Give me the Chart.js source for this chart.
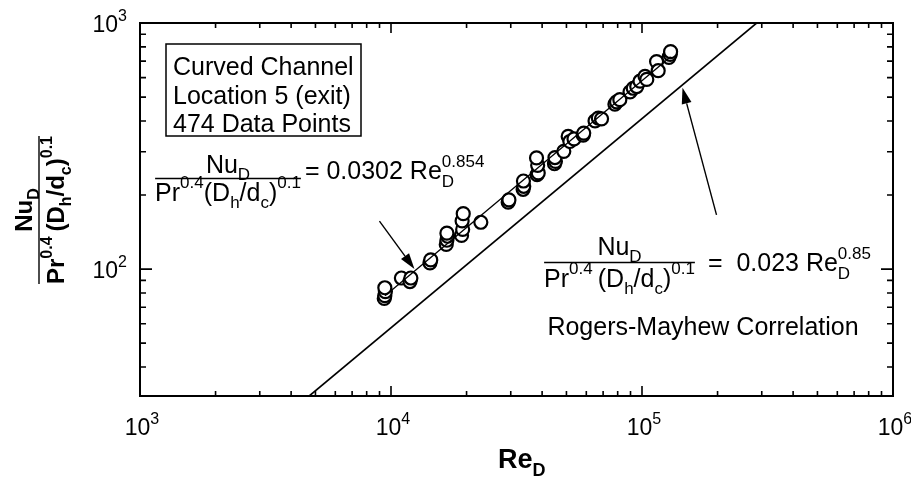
<!DOCTYPE html>
<html>
<head>
<meta charset="utf-8">
<script src="https://cdn.jsdelivr.net/npm/chart.js@4.4.1/dist/chart.umd.min.js"></script>
<style>
    html, body { margin: 0; padding: 0; background: #fff; }
    #chart { display: block; }
</style>
</head>
<body>
<canvas id="chart" width="911" height="480"></canvas>
<script>
// measured points, curved channel location 5 (exit)
const reVals = [9400, 9450, 9500, 9450, 11000, 11900, 12000, 14300, 14400,
    16600, 16700, 16800, 16700, 19100, 19300, 19200, 19400, 22800, 29300, 29500,
    33600, 33800, 33700, 38200, 38600, 38400, 38000, 44800, 45200, 45000, 48800,
    50800, 51600, 53600, 58300, 58600, 65000, 67000, 69000, 78000, 79200, 81600,
    89600, 92300, 95300, 98200, 102800, 104500, 114300, 116000, 128000, 129500, 130000];
const nuVals = [76, 78, 81, 84, 92, 89, 92, 106, 109,
    126, 131, 136, 140, 137, 145, 157, 168, 155, 187, 191,
    211, 217, 228, 242, 246, 264, 283, 268, 274, 284, 301,
    346, 330, 338, 350, 357, 400, 411, 408, 468, 478, 488,
    525, 543, 552, 580, 607, 590, 697, 640, 725, 745, 765];

// fit line 0.0302 Re^0.854 (end points)
const fitRe = [9470, 130000];
const fitNu = [78, 730];

// Rogers-Mayhew correlation 0.023 Re^0.85
const rmRe = [4000, 300000];
const rmNu = [26.5, 1040];

const xMin = 1e3, xMax = 1e6;
const yMin = 30.5, yMax = 1e3;
const xTickVals = [1e3, 1e4, 1e5, 1e6];
const xTickExp = ['3', '4', '5', '6'];
const yTickVals = [1e2, 1e3];
const yTickExp = ['2', '3'];
const minorSteps = [2, 3, 4, 5, 6, 7, 8, 9];

const boxLines = ['Curved Channel', 'Location 5 (exit)', '474 Data Points'];
const rogersLabel = 'Rogers-Mayhew Correlation';

const fontFam = '"Liberation Sans", Arial, Helvetica, sans-serif';

function font(size, bold)
{
    return (bold ? 'bold ' : '') + size + 'px ' + fontFam;
}

function richWidth(ctx, parts, size, bold)
{
    let w = 0;
    let s = Math.round(size * 0.68);
    parts.forEach(p => {
        if (typeof p === 'string') {
            ctx.font = font(size, bold);
            w += ctx.measureText(p).width;
        } else {
            ctx.font = font(s, bold);
            let a = p.sub ? ctx.measureText(p.sub).width : 0;
            let b = p.sup ? ctx.measureText(p.sup).width : 0;
            w += Math.max(a, b);
        }
    });
    return w;
}

function drawRich(ctx, parts, x, y, size, bold, align)
{
    let w = richWidth(ctx, parts, size, bold);
    if (align === 'center') x -= w / 2;
    else if (align === 'right') x -= w;
    let s = Math.round(size * 0.68);
    ctx.textAlign = 'left';
    ctx.textBaseline = 'alphabetic';
    parts.forEach(p => {
        if (typeof p === 'string') {
            ctx.font = font(size, bold);
            ctx.fillText(p, x, y);
            x += ctx.measureText(p).width;
        } else {
            ctx.font = font(s, bold);
            let adv = 0;
            if (p.sub) {
                ctx.fillText(p.sub, x, y + size * 0.3);
                adv = Math.max(adv, ctx.measureText(p.sub).width);
            }
            if (p.sup) {
                ctx.fillText(p.sup, x, y - size * 0.5);
                adv = Math.max(adv, ctx.measureText(p.sup).width);
            }
            x += adv;
        }
    });
    return w;
}

function drawFraction(ctx, num, den, cx, lineY, size, bold, numGap, denGap)
{
    let w = Math.max(richWidth(ctx, num, size, bold), richWidth(ctx, den, size, bold));
    ctx.beginPath();
    ctx.moveTo(cx - w / 2, lineY);
    ctx.lineTo(cx + w / 2, lineY);
    ctx.lineWidth = 1.4;
    ctx.stroke();
    drawRich(ctx, num, cx, lineY - numGap, size, bold, 'center');
    drawRich(ctx, den, cx, lineY + denGap, size, bold, 'center');
    return w;
}

function drawArrow(ctx, x0, y0, x1, y1)
{
    let ang = Math.atan2(y1 - y0, x1 - x0);
    let len = 16, half = 5;
    let bx = x1 - len * Math.cos(ang), by = y1 - len * Math.sin(ang);
    ctx.beginPath();
    ctx.moveTo(x0, y0);
    ctx.lineTo(bx, by);
    ctx.lineWidth = 1.4;
    ctx.stroke();
    ctx.beginPath();
    ctx.moveTo(x1, y1);
    ctx.lineTo(bx + half * Math.sin(ang), by - half * Math.cos(ang));
    ctx.lineTo(bx - half * Math.sin(ang), by + half * Math.cos(ang));
    ctx.closePath();
    ctx.fill();
}

const numNu = ['Nu', {sub: 'D'}];

const decorations = {
    id: 'decorations',
    afterDraw(chart)
    {
        const ctx = chart.ctx;
        const xs = chart.scales.x, ys = chart.scales.y;
        const a = chart.chartArea;
        ctx.save();
        ctx.strokeStyle = '#000';
        ctx.fillStyle = '#000';

        // frame
        ctx.lineWidth = 2;
        ctx.strokeRect(a.left, a.top, a.right - a.left, a.bottom - a.top);

        // x ticks, bottom and top, pointing inward
        ctx.lineWidth = 1.6;
        for (let d = 3; d < 6; d++) {
            [1].concat(minorSteps).forEach(m => {
                let px = xs.getPixelForValue(m * Math.pow(10, d));
                let len = m === 1 ? 10 : 5;
                ctx.beginPath();
                ctx.moveTo(px, a.bottom); ctx.lineTo(px, a.bottom - len);
                ctx.moveTo(px, a.top); ctx.lineTo(px, a.top + len);
                ctx.stroke();
            });
        }
        // y ticks, left and right
        for (let d = 1; d < 3; d++) {
            [1].concat(minorSteps).forEach(m => {
                let v = m * Math.pow(10, d);
                if (v < yMin || v > yMax) return;
                let py = ys.getPixelForValue(v);
                let len = m === 1 ? 12 : 6;
                ctx.beginPath();
                ctx.moveTo(a.left, py); ctx.lineTo(a.left + len, py);
                ctx.moveTo(a.right, py); ctx.lineTo(a.right - len, py);
                ctx.stroke();
            });
        }

        // tick labels
        xTickVals.forEach((v, i) => {
            drawRich(ctx, ['10', {sup: xTickExp[i]}], xs.getPixelForValue(v) + 2, a.bottom + 39, 23, false, 'center');
        });
        yTickVals.forEach((v, i) => {
            drawRich(ctx, ['10', {sup: yTickExp[i]}], a.left - 13, ys.getPixelForValue(v) + 9, 23, false, 'right');
        });

        // axis titles
        drawRich(ctx, ['Re', {sub: 'D'}], 498, 468, 27, true, 'left');
        ctx.save();
        ctx.translate(39, 210);
        ctx.rotate(-Math.PI / 2);
        drawFraction(ctx, numNu, ['Pr', {sup: '0.4'}, '\u2009(D', {sub: 'h'}, '/d', {sub: 'c'}, ')', {sup: '0.1'}],
            0, 0, 24, true, 7, 25);
        ctx.restore();

        // info box
        ctx.lineWidth = 1.5;
        ctx.strokeRect(166, 44, 195, 92);
        ctx.font = font(25, false);
        ctx.textAlign = 'left';
        boxLines.forEach((t, i) => ctx.fillText(t, 173, 75 + i * 28.5));

        // fit equation
        let w1 = drawFraction(ctx, numNu, ['Pr', {sup: '0.4'}, '(D', {sub: 'h'}, '/d', {sub: 'c'}, ')', {sup: '0.1'}],
            228, 178.5, 25, false, 6, 22);
        drawRich(ctx, ['= 0.0302 Re', {sub: 'D', sup: '0.854'}], 228 + w1 / 2 + 4, 179, 25, false, 'left');

        // correlation equation
        let w2 = drawFraction(ctx, numNu, ['Pr', {sup: '0.4'}, '\u2009(D', {sub: 'h'}, '/d', {sub: 'c'}, ')', {sup: '0.1'}],
            619.5, 262.5, 25, false, 8, 24);
        drawRich(ctx, ['=  0.023 Re', {sub: 'D', sup: '0.85'}], 619.5 + w2 / 2 + 13, 271, 25, false, 'left');
        ctx.font = font(25, false);
        ctx.textAlign = 'center';
        ctx.fillText(rogersLabel, 703, 335);

        // arrows pointing at the two lines
        let t1x = xs.getPixelForValue(12400), t1y = ys.getPixelForValue(100);
        drawArrow(ctx, t1x - 35, t1y - 48, t1x, t1y);
        let t2x = xs.getPixelForValue(145000), t2y = ys.getPixelForValue(545);
        drawArrow(ctx, t2x + 34, t2y + 127, t2x, t2y);

        ctx.restore();
    }
};

const toXY = (xArr, yArr) => xArr.map((x, i) => ({x: x, y: yArr[i]}));

new Chart(document.getElementById('chart').getContext('2d'), {
    type: 'scatter',
    data: {
        datasets: [
            {
                label: 'Rogers-Mayhew',
                data: toXY(rmRe, rmNu),
                showLine: true,
                borderColor: '#000',
                borderWidth: 1.7,
                pointRadius: 0
            },
            {
                label: 'fit',
                data: toXY(fitRe, fitNu),
                showLine: true,
                borderColor: '#000',
                borderWidth: 1.3,
                pointRadius: 0
            },
            {
                label: 'data',
                data: toXY(reVals, nuVals),
                showLine: false,
                pointRadius: 6.5,
                pointBackgroundColor: '#fff',
                pointBorderColor: '#000',
                pointBorderWidth: 2.2
            }
        ]
    },
    options: {
        responsive: false,
        animation: false,
        layout: { padding: { left: 140, right: 18, top: 23, bottom: 84 } },
        scales: {
            x: { type: 'logarithmic', min: xMin, max: xMax, display: false },
            y: { type: 'logarithmic', min: yMin, max: yMax, display: false }
        },
        plugins: {
            legend: { display: false },
            tooltip: { enabled: false }
        }
    },
    plugins: [decorations]
});
</script>
</body>
</html>
